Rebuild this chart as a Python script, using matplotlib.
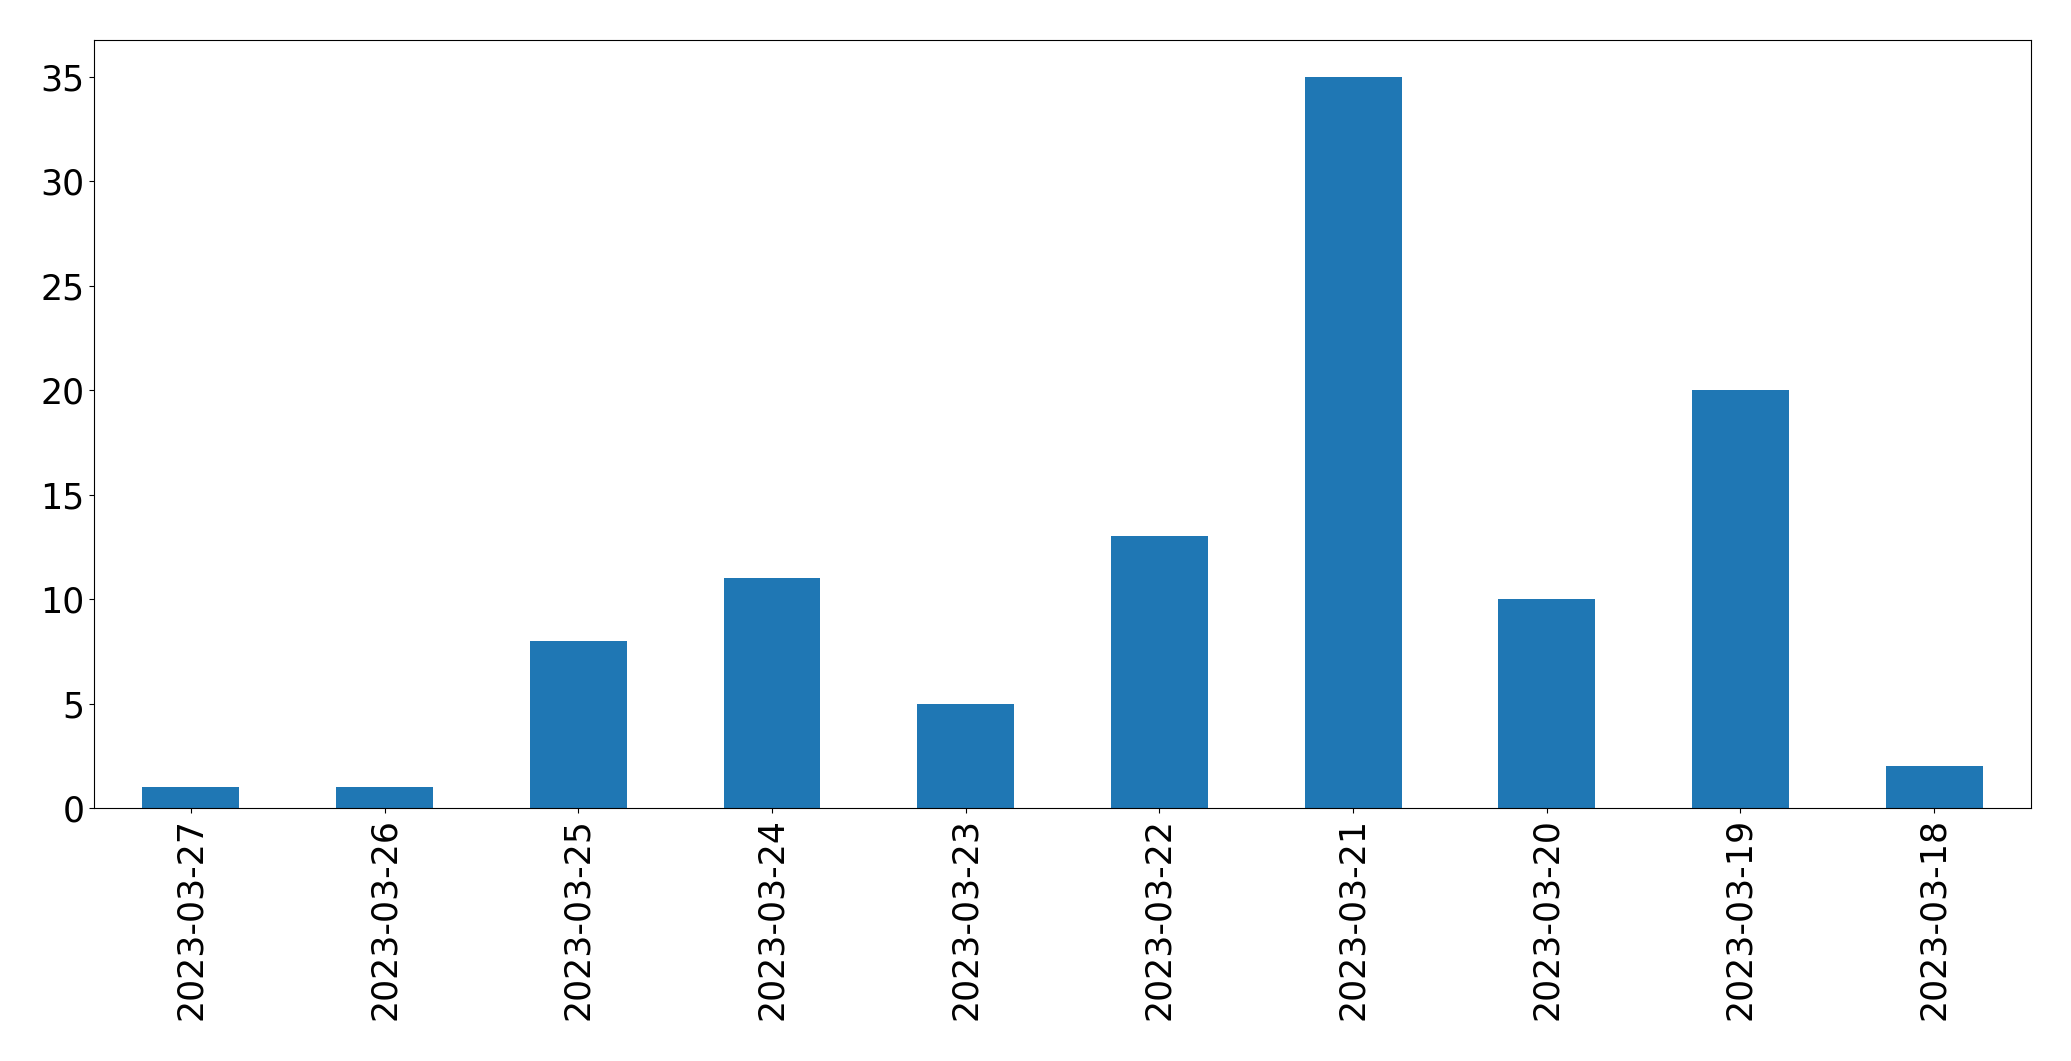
import pandas as pd
import matplotlib
matplotlib.use("Agg")
import matplotlib.pyplot as plt

# Daily counts, newest first (as in the source)
dates = ['2023-03-27', '2023-03-26', '2023-03-25', '2023-03-24', '2023-03-23',
         '2023-03-22', '2023-03-21', '2023-03-20', '2023-03-19', '2023-03-18']
counts = [1, 1, 8, 11, 5, 13, 35, 10, 20, 2]

s = pd.Series(counts, index=dates)

fig = plt.figure(figsize=(20.71, 10.61), dpi=100)
ax = fig.add_subplot(111)
s.plot(kind='bar', ax=ax, fontsize=25, color='#1f77b4')
ax.tick_params(labelsize=25)
fig.subplots_adjust(left=0.0454, right=0.9807, top=0.962, bottom=0.2385)
fig.savefig('out.png', dpi=100)
